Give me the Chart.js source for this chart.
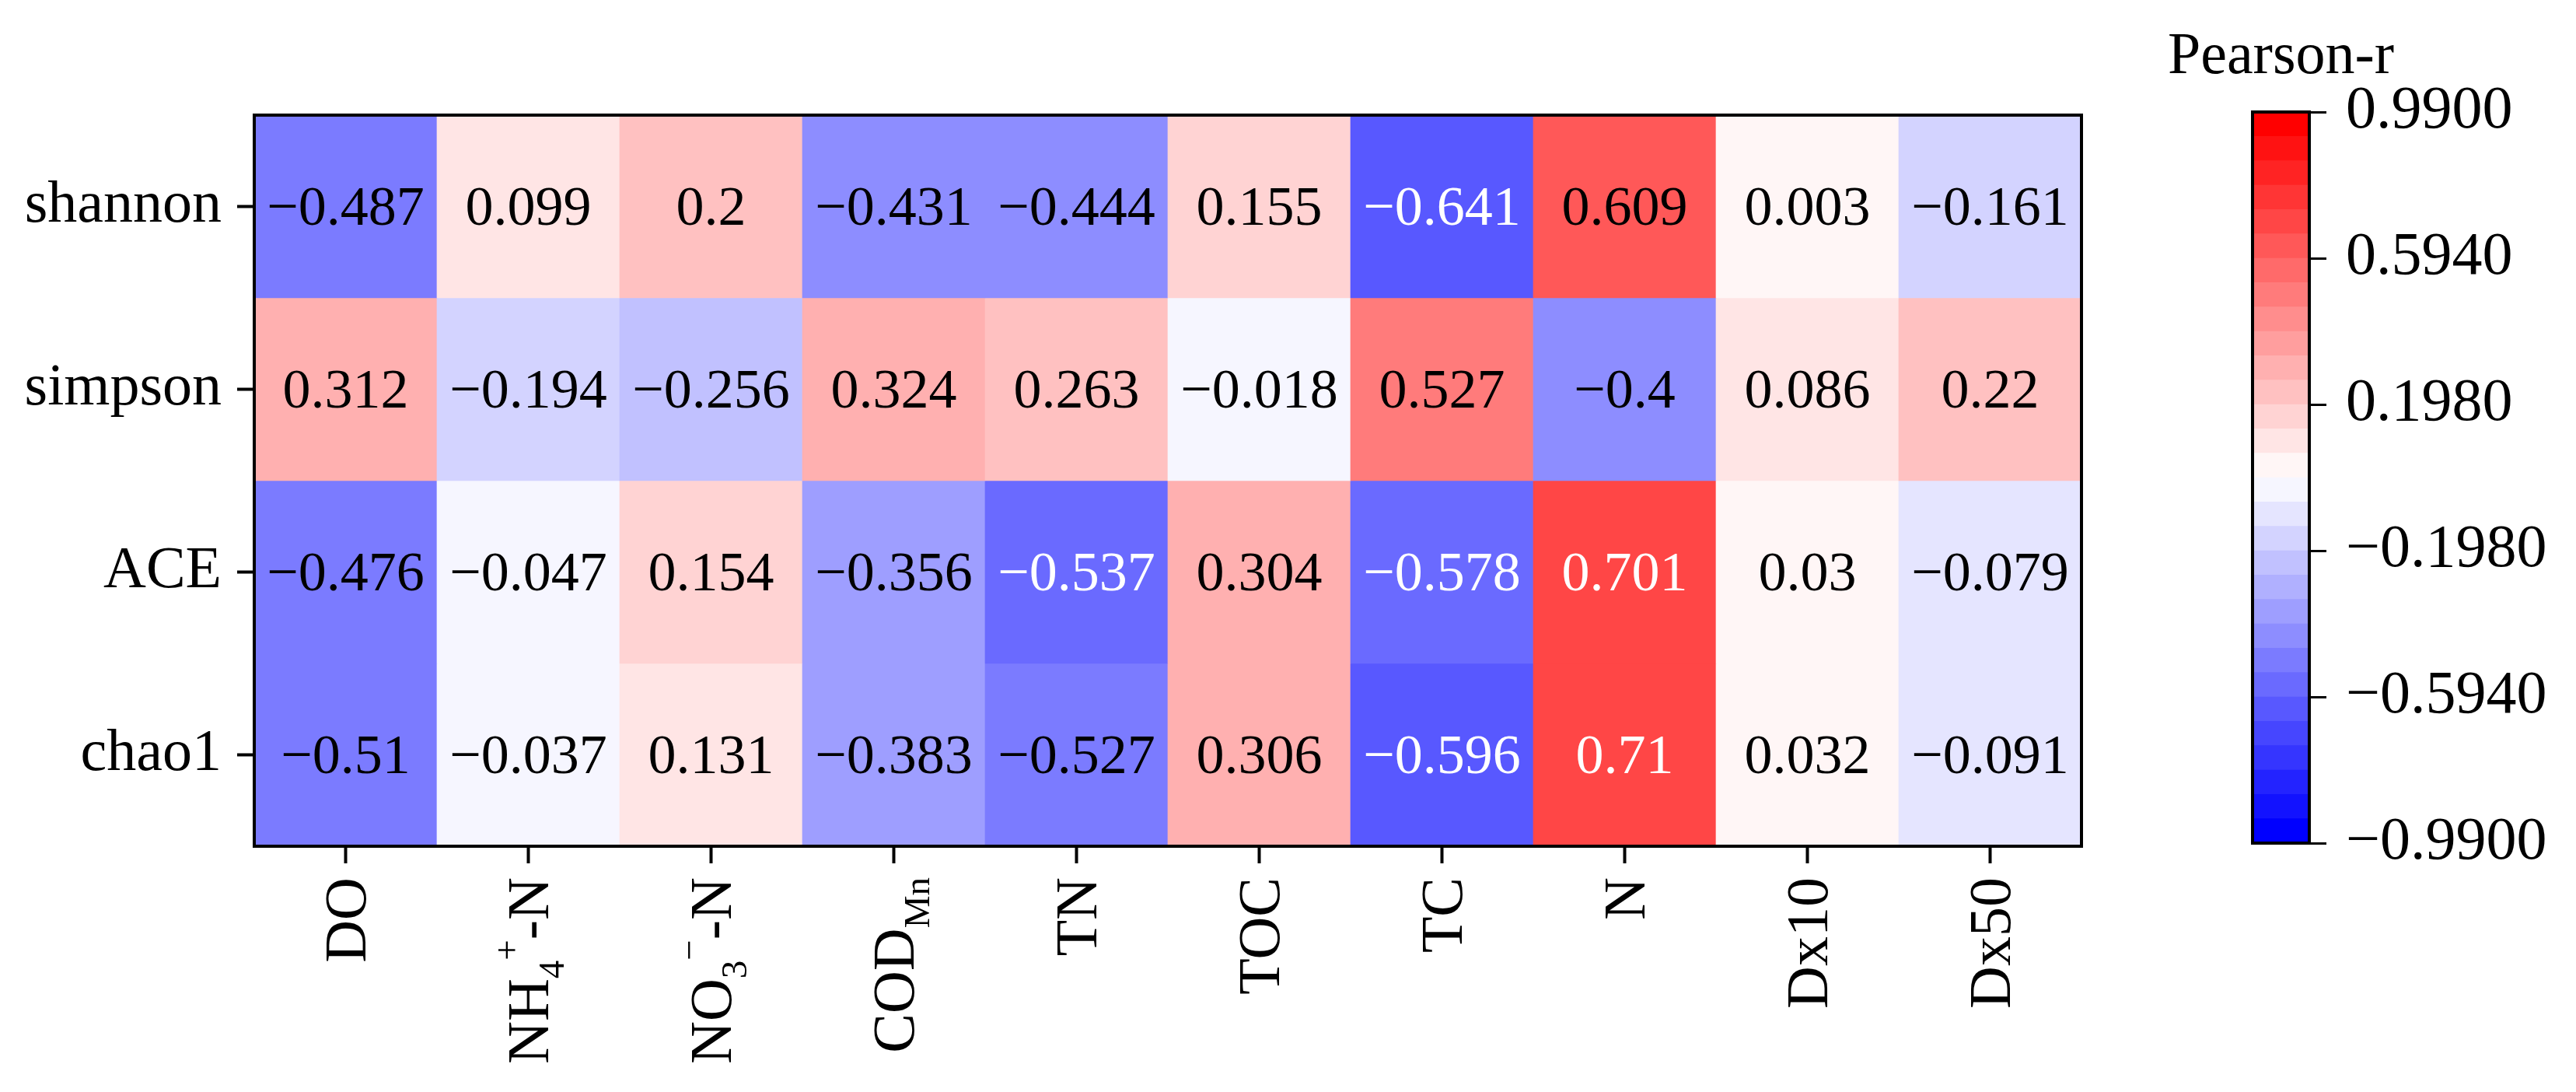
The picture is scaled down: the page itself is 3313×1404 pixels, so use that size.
<!DOCTYPE html>
<html>
<head>
<meta charset="utf-8">
<script src="https://cdn.jsdelivr.net/npm/chart.js@4.4.1/dist/chart.umd.min.js"></script>
<style>
  html, body { margin: 0; padding: 0; background: #fff; }
  #wrap { position: relative; width: 3313px; height: 1404px; }
  canvas { position: absolute; left: 0; top: 0; }
</style>
</head>
<body>
<div id="wrap">
  <canvas id="heat" width="3313" height="1404"></canvas>
  <canvas id="cbar" width="3313" height="1404"></canvas>
</div>
<script>
// ---------- data ----------
const rows = ['shannon', 'simpson', 'ACE', 'chao1'];
const categories = ['DO', 'NH_{4}^{+}-N', 'NO_{3}^{\u2212}-N', 'COD_{Mn}', 'TN', 'TOC', 'TC', 'N', 'Dx10', 'Dx50'];
const shannon = [-0.487, 0.099, 0.2, -0.431, -0.444, 0.155, -0.641, 0.609, 0.003, -0.161];
const simpson = [0.312, -0.194, -0.256, 0.324, 0.263, -0.018, 0.527, -0.4, 0.086, 0.22];
const ace     = [-0.476, -0.047, 0.154, -0.356, -0.537, 0.304, -0.578, 0.701, 0.03, -0.079];
const chao1   = [-0.51, -0.037, 0.131, -0.383, -0.527, 0.306, -0.596, 0.71, 0.032, -0.091];
const values = [shannon, simpson, ace, chao1];
const cbarTicks = [-0.99, -0.594, -0.198, 0.198, 0.594, 0.99];
const cbarTitle = 'Pearson-r';
const vmin = -0.99, vmax = 0.99, nLevels = 30;

// ---------- colour helpers ----------
const FONT = '"Liberation Serif", "Times New Roman", serif';
const levelStep = (vmax - vmin) / nLevels;
function levelOf(v) {
  let i = Math.floor((v - vmin) / levelStep + 1e-9);
  return Math.max(0, Math.min(nLevels - 1, i));
}
function bwrRGB(t) {
  let r, g, b;
  if (t < 0.5) { r = g = 2 * t; b = 1; } else { r = 1; g = b = 2 * (1 - t); }
  return [Math.round(r * 255), Math.round(g * 255), Math.round(b * 255)];
}
function levelRGB(i) { return bwrRGB(i / (nLevels - 1)); }
function rgbStr(c) { return `rgb(${c[0]},${c[1]},${c[2]})`; }
function cellColor(v) { return rgbStr(levelRGB(levelOf(v))); }
function textColor(v) {
  const c = levelRGB(levelOf(v));
  const y = 0.299 * c[0] + 0.587 * c[1] + 0.114 * c[2];
  return y < 128 ? '#ffffff' : '#000000';
}
function fmt(v) { return (v < 0 ? '\u2212' : '') + String(Math.abs(v)); }

function parseLabel(s) {
  const out = [];
  const re = /_\{([^}]*)\}|\^\{([^}]*)\}|([^_^]+)/g;
  let m;
  while ((m = re.exec(s)) !== null) {
    if (m[1] !== undefined) out.push({ t: 'sub', s: m[1] });
    else if (m[2] !== undefined) out.push({ t: 'sup', s: m[2] });
    else out.push({ t: 'n', s: m[3] });
  }
  return out;
}

// ---------- plugins ----------
const heatPlugin = {
  id: 'heatExtras',
  afterDatasetsDraw(chart) {
    const ctx = chart.ctx;
    const fs = 72;
    ctx.save();
    ctx.font = `${fs}px ${FONT}`;
    ctx.textAlign = 'center';
    ctx.textBaseline = 'alphabetic';
    chart.data.datasets.forEach((ds, r) => {
      const meta = chart.getDatasetMeta(r);
      meta.data.forEach((bar, c) => {
        const p = bar.getProps(['x', 'y', 'base'], true);
        const cy = (p.y + p.base) / 2;
        const v = values[r][c];
        ctx.fillStyle = textColor(v);
        ctx.fillText(fmt(v), p.x, cy + 0.33 * fs);
      });
    });
    // frame
    const a = chart.chartArea;
    ctx.lineWidth = 4;
    ctx.strokeStyle = '#000';
    ctx.strokeRect(a.left, a.top, a.right - a.left, a.bottom - a.top);
    ctx.restore();
  },
  afterDraw(chart) {
    const ctx = chart.ctx;
    const xs = chart.scales.x;
    const fs = 76, sfs = Math.round(fs * 0.62);
    const capH = 0.662 * fs;
    const yEnd = chart.chartArea.bottom + 40;
    ctx.save();
    ctx.fillStyle = '#000';
    ctx.textAlign = 'left';
    ctx.textBaseline = 'alphabetic';
    categories.forEach((lab, i) => {
      const segs = parseLabel(lab);
      let W = 0;
      segs.forEach(s => {
        ctx.font = `${s.t === 'n' ? fs : sfs}px ${FONT}`;
        s.w = ctx.measureText(s.s).width;
        W += s.w;
      });
      const x = xs.getPixelForTick(i);
      ctx.save();
      ctx.translate(x + capH / 2, yEnd);
      ctx.rotate(-Math.PI / 2);
      let u = -W;
      segs.forEach(s => {
        ctx.font = `${s.t === 'n' ? fs : sfs}px ${FONT}`;
        const dv = s.t === 'sub' ? 0.27 * fs : (s.t === 'sup' ? -0.5 * fs : 0);
        ctx.fillText(s.s, u, dv);
        u += s.w;
      });
      ctx.restore();
    });
    ctx.restore();
  }
};

const cbarPlugin = {
  id: 'cbarExtras',
  afterDatasetsDraw(chart) {
    const ctx = chart.ctx;
    const a = chart.chartArea;
    ctx.save();
    ctx.lineWidth = 4;
    ctx.strokeStyle = '#000';
    ctx.strokeRect(a.left, a.top, a.right - a.left, a.bottom - a.top);
    ctx.fillStyle = '#000';
    ctx.font = `76px ${FONT}`;
    ctx.textAlign = 'center';
    ctx.textBaseline = 'alphabetic';
    ctx.fillText(cbarTitle, (a.left + a.right) / 2, 94);
    ctx.restore();
  }
};

// ---------- heatmap chart ----------
new Chart(document.getElementById('heat'), {
  type: 'bar',
  data: {
    labels: categories,
    datasets: rows.map((name, r) => ({
      label: name,
      data: categories.map(() => [r, r + 1]),
      backgroundColor: values[r].map(cellColor),
      borderWidth: 0,
      categoryPercentage: 1.0,
      barPercentage: 1.0
    }))
  },
  options: {
    responsive: false,
    animation: false,
    devicePixelRatio: 1,
    layout: { padding: { left: 0, top: 148, right: 636, bottom: 0 } },
    plugins: { legend: { display: false }, tooltip: { enabled: false }, title: { display: false } },
    scales: {
      x: {
        type: 'category',
        stacked: true,
        offset: true,
        grid: { offset: false, drawOnChartArea: false, drawTicks: true, tickLength: 22, tickWidth: 4, tickColor: '#000' },
        border: { display: false },
        ticks: { display: false },
        afterFit(s) { s.height = 316; }
      },
      y: {
        type: 'linear',
        min: 0, max: rows.length,
        reverse: true,
        stacked: false,
        afterBuildTicks(s) { s.ticks = rows.map((_, i) => ({ value: i + 0.5 })); },
        ticks: {
          autoSkip: false,
          padding: 20,
          color: '#000',
          font: { family: FONT, size: 76 },
          callback: (v, idx) => rows[idx]
        },
        grid: { drawOnChartArea: false, drawTicks: true, tickLength: 22, tickWidth: 4, tickColor: '#000' },
        border: { display: false },
        afterFit(s) { s.width = 327; }
      }
    }
  },
  plugins: [heatPlugin]
});

// ---------- colorbar chart ----------
const cbarDatasets = [];
for (let i = 0; i < nLevels; i++) {
  cbarDatasets.push({
    data: [[vmin + i * levelStep, vmin + (i + 1) * levelStep]],
    backgroundColor: rgbStr(levelRGB(i)),
    borderWidth: 0,
    categoryPercentage: 1.0,
    barPercentage: 1.0
  });
}
new Chart(document.getElementById('cbar'), {
  type: 'bar',
  data: { labels: [''], datasets: cbarDatasets },
  options: {
    responsive: false,
    animation: false,
    devicePixelRatio: 1,
    layout: { padding: { left: 2897, top: 144, right: 0, bottom: 320 } },
    plugins: { legend: { display: false }, tooltip: { enabled: false } },
    scales: {
      x: { display: false, stacked: true, offset: true },
      y: {
        type: 'linear',
        position: 'right',
        min: vmin, max: vmax,
        stacked: false,
        afterBuildTicks(s) { s.ticks = cbarTicks.map(v => ({ value: v })); },
        ticks: {
          autoSkip: false,
          padding: 25,
          color: '#000',
          font: { family: FONT, size: 78 },
          callback: (v, idx) => { const t = cbarTicks[idx]; return (t < 0 ? '\u2212' : '') + Math.abs(t).toFixed(4); }
        },
        grid: { drawOnChartArea: false, drawTicks: true, tickLength: 22, tickWidth: 3, tickColor: '#000' },
        border: { display: false },
        afterFit(s) { s.width = 343; }
      }
    }
  },
  plugins: [cbarPlugin]
});
</script>
</body>
</html>
